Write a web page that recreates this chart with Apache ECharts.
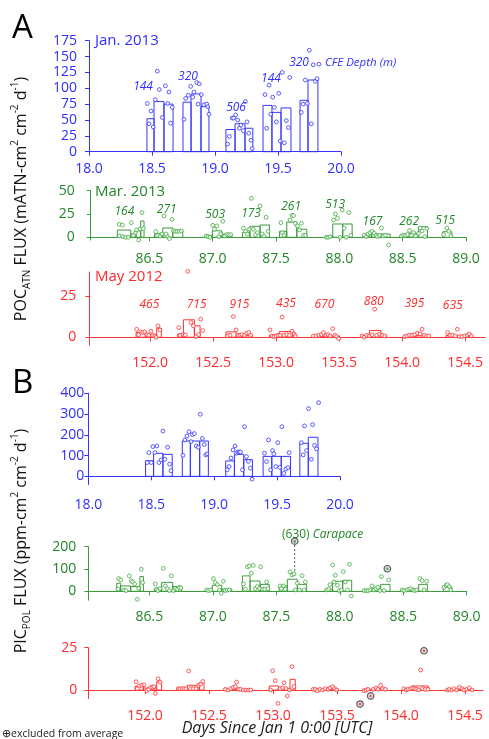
<!DOCTYPE html>
<html><head><meta charset="utf-8">
<script src="https://cdn.jsdelivr.net/npm/echarts@6/dist/echarts.min.js"></script>
<style>html,body{margin:0;padding:0;background:#fff}#c{width:489px;height:739px}</style>
</head><body><div id="c"></div>
<script>
// ---------- DATA ----------
// bars: [startDay, endDay, value]
const barsA1 = [[18.46,18.516,52],[18.516,18.595,79],[18.595,18.667,75],[18.746,18.81,78],[18.81,18.889,91],[18.889,18.952,71],[19.087,19.159,35],[19.159,19.238,44],[19.238,19.30,37],[19.381,19.452,73],[19.452,19.524,62],[19.524,19.603,69],[19.675,19.738,81],[19.738,19.817,113]];
const ptsA1 = [[18.463,76],[18.492,64],[18.476,44],[18.51,39],[18.526,82],[18.542,127],[18.558,98],[18.582,54],[18.606,104],[18.625,76],[18.635,94],[18.648,45],[18.661,70],
[18.754,51],[18.767,84],[18.788,89],[18.807,103],[18.823,86],[18.833,94],[18.855,109],[18.875,107],[18.865,75],[18.891,90],[18.913,74],[18.934,75],[18.942,71],[18.952,59],
[19.10,12],[19.114,24],[19.137,53],[19.148,53],[19.164,58],[19.18,50],[19.193,37],[19.206,42],[19.225,33],[19.241,79],[19.254,47],[19.268,29],[19.286,18],[19.296,5],
[19.397,90],[19.41,37],[19.429,105],[19.442,59],[19.458,86],[19.471,70],[19.487,47],[19.506,92],[19.518,17],[19.534,125],[19.55,14],[19.566,49],[19.582,38],[19.593,117],
[19.685,62],[19.70,75],[19.717,113],[19.733,76],[19.748,160],[19.764,44],[19.78,137],[19.796,111],[19.81,115],[19.825,138]];
const depthA1 = [[18.429,102],[18.786,118],[19.167,69],[19.444,115],[19.667,140]];
const depthA1Lbl = ['144','320','506','144','320'];

const barsA2 = [[86.247,86.353,7.8],[86.353,86.395,3.5],[86.395,86.432,7],[86.432,86.458,17.5],
[86.54,86.606,3.6],[86.606,86.685,10],[86.685,86.764,7],
[86.94,86.998,2.1],[86.998,87.072,7],[87.072,87.151,3.5],
[87.235,87.295,5.3],[87.295,87.374,11.8],[87.374,87.448,13.2],
[87.527,87.585,6.4],[87.585,87.664,16.4],[87.664,87.743,8.6],
[87.888,87.948,1],[87.948,88.027,14.3],[88.027,88.101,14.3],
[88.185,88.256,1.5],[88.256,88.322,3.5],[88.322,88.401,3.5],
[88.48,88.546,2.5],[88.546,88.625,4.3],[88.625,88.696,11.4],
[88.817,88.888,6]];
const ptsA2 = [[86.263,13.9],[86.287,13.2],[86.263,1.4],[86.29,0.7],[86.313,0],[86.334,0],[86.358,15.7],[86.374,2.1],[86.39,5.0],[86.40,7.9],[86.416,-2.9],[86.427,8.9],[86.442,26.5],[86.453,9.3],
[86.55,6.1],[86.566,2.1],[86.585,1.4],[86.60,3.6],[86.616,22.9],[86.632,3.6],[86.642,0.7],[86.658,-1.4],[86.679,19.3],[86.69,7.2],[86.706,6.4],[86.721,6.4],[86.737,6.4],[86.753,6.8],
[86.948,1.4],[86.964,0.7],[86.979,0],[87.0,12.9],[87.014,8.6],[87.032,12.2],[87.048,0.7],[87.064,3.6],[87.08,17.2],[87.095,1.4],[87.111,2.9],[87.127,2.9],[87.143,2.9],
[87.243,9.7],[87.259,6.4],[87.274,3.6],[87.29,8.6],[87.306,41.8],[87.322,8.6],[87.338,2.9],[87.353,5.0],[87.374,33.6],[87.39,3.6],[87.406,1.4],[87.422,21.5],[87.438,6.4],
[87.538,15.7],[87.548,5],[87.564,2.1],[87.611,18.6],[87.627,23.6],[87.638,23.2],[87.653,15],[87.669,12.2],[87.685,7.9],[87.701,15],[87.717,2.1],[87.733,2.1],
[87.896,0],[87.912,0],[87.927,0.7],[87.954,18.6],[87.969,25],[87.985,20.4],[88.006,0],[88.022,29.3],[88.038,9.7],[88.054,0],[88.075,26.5],[88.091,2.1],
[88.196,2.1],[88.212,0.7],[88.227,3.6],[88.243,5],[88.259,6.4],[88.275,4.3],[88.291,2.1],[88.301,0.7],[88.317,2.1],[88.333,10],[88.349,1.4],[88.364,2.1],[88.388,-8.2],
[88.491,1.4],[88.507,2.1],[88.522,2.1],[88.538,2.9],[88.554,7.2],[88.57,2.1],[88.586,5],[88.601,1.4],[88.625,4.3],[88.638,10],[88.654,6.8],[88.675,0.7],[88.691,9.3],
[88.823,2.9],[88.849,10],[88.865,6.4],[88.881,1.4]];
const depthA2 = [[86.303,27.5],[86.637,30],[87.019,24.7],[87.303,25.8],[87.619,32.9],[87.967,34.7],[88.262,16.8],[88.551,16.8],[88.836,17.9]];
const depthA2Lbl = ['164','271','503','173','261','513','167','262','515'];

const barsA3 = [[151.889,151.963,2.9],[151.963,152.053,1.5],[152.053,152.09,5.5],
[152.22,152.265,2],[152.265,152.352,10.7],[152.352,152.397,7],
[152.603,152.683,3.3],[152.683,152.81,1],
[152.947,153.026,1.2],[153.026,153.132,3.5],[153.132,153.159,2],
[153.291,153.397,0.6],[153.397,153.503,0.8],
[153.675,153.741,1.2],[153.741,153.833,4.1],[153.833,153.878,1.2],
[154.019,154.111,0.8],[154.111,154.217,1],
[154.349,154.455,1],[154.455,154.561,0.8]];
const ptsA3 = [[151.894,4.9],[151.91,1.6],[151.926,3.3],[151.942,2.9],[151.958,3.3],[151.974,1.6],[151.989,1.2],[152.008,3.7],[152.021,1.2],[152.037,0.8],[152.048,0],[152.063,7],[152.079,4.5],
[152.228,5.9],[152.238,1.2],[152.265,1.6],[152.28,1.4],[152.299,40.4],[152.325,9],[152.344,7],[152.365,0.4],[152.386,1.6],[152.402,11.1],[152.418,4.1],
[152.616,0.8],[152.635,1.2],[152.661,12.7],[152.683,4.5],[152.698,1.2],[152.714,1.2],[152.73,1.6],[152.749,1.2],[152.767,2.5],[152.783,2.9],[152.799,1.2],
[152.952,4.5],[152.968,0.8],[152.984,0.4],[153.0,0.8],[153.016,1.2],[153.032,1.2],[153.048,12.3],[153.063,1.2],[153.085,1.6],[153.106,1.2],[153.127,3.7],[153.143,2],[153.153,0.8],
[153.296,0.8],[153.317,0.8],[153.339,1.2],[153.36,1.6],[153.376,2.9],[153.397,1.2],[153.413,1.6],[153.429,0.8],[153.45,5.3],[153.466,1.2],[153.481,0.4],[153.497,-0.8],
[153.683,0.8],[153.698,0],[153.72,1.2],[153.741,0.8],[153.762,1.6],[153.783,17.2],[153.799,1.2],[153.82,2],[153.841,1.2],[153.862,0.8],
[154.021,0.4],[154.037,0.8],[154.058,1.2],[154.079,1.2],[154.1,1.6],[154.122,2.5],[154.143,2],[154.159,4.9],[154.175,1.2],[154.196,0.8],[154.212,0.8],
[154.362,2.9],[154.381,1.2],[154.402,1.2],[154.423,0.8],[154.439,4.9],[154.455,0.4],[154.476,0.4],[154.497,0.8],[154.519,1.2],[154.534,2],[154.55,0.8]];
const depthA3 = [[151.995,19.9],[152.37,19.9],[152.709,19.9],[153.079,20.5],[153.384,19.9],[153.775,22],[154.098,20.5],[154.402,19.3]];
const depthA3Lbl = ['465','715','915','435','670','880','395','635'];

const barsB1 = [[18.455,18.519,75],[18.519,18.593,111],[18.593,18.667,106],
[18.747,18.811,170],[18.811,18.885,170],[18.885,18.954,170],
[19.092,19.161,74],[19.161,19.235,106],[19.235,19.304,80],
[19.389,19.458,96],[19.458,19.533,96],[19.533,19.607,96],
[19.681,19.748,159],[19.748,19.825,188]];
const ptsB1 = [[18.468,66],[18.481,114],[18.5,66],[18.513,143],[18.529,114],[18.545,146],[18.561,66],[18.577,79],[18.593,218],[18.609,82],[18.63,140],[18.646,59],[18.657,27],
[18.752,101],[18.768,175],[18.784,194],[18.8,215],[18.816,167],[18.827,201],[18.842,206],[18.858,146],[18.874,140],[18.89,299],[18.906,183],[18.922,153],[18.933,103],[18.944,108],
[19.103,31],[19.119,47],[19.134,88],[19.15,127],[19.166,146],[19.177,111],[19.188,117],[19.198,117],[19.209,117],[19.225,31],[19.241,239],[19.257,95],[19.272,72],[19.288,39],[19.302,-14],
[19.4,111],[19.416,71],[19.432,175],[19.448,31],[19.464,124],[19.474,108],[19.49,47],[19.506,162],[19.522,43],[19.538,239],[19.554,14],[19.57,35],[19.586,42],[19.596,114],
[19.692,162],[19.708,103],[19.718,243],[19.734,124],[19.75,326],[19.772,82],[19.782,249],[19.798,149],[19.814,132],[19.83,355]];

const barsB2 = [[86.243,86.274,36],[86.274,86.353,24],[86.353,86.426,21],[86.426,86.453,66],
[86.539,86.597,13],[86.597,86.684,40],[86.684,86.755,21],
[86.939,86.996,6],[86.996,87.07,27],[87.07,87.149,10],
[87.233,87.293,69],[87.293,87.372,46],[87.372,87.445,31],
[87.522,87.587,24],[87.587,87.666,54],[87.666,87.739,31],
[87.884,87.944,9],[87.944,88.023,45],[88.023,88.094,49],
[88.181,88.252,3],[88.252,88.322,10],[88.322,88.396,31],
[88.48,88.548,6],[88.548,88.622,6],[88.622,88.69,31],
[88.816,88.882,18]];
const ptsB2 = [[86.258,57],[86.274,51],[86.253,10],[86.3,6],[86.316,3],[86.342,69],[86.358,48],[86.369,42],[86.384,33],[86.405,-36],[86.416,13],[86.437,99],[86.447,39],
[86.547,33],[86.558,9],[86.568,3],[86.584,12],[86.61,103],[86.626,24],[86.642,12],[86.658,3],[86.673,69],[86.689,3],[86.705,12],[86.721,9],[86.736,18],[86.747,15],
[86.952,6],[86.967,3],[86.983,6],[87.004,57],[87.02,39],[87.036,30],[87.051,6],[87.067,-9],[87.083,45],[87.099,3],[87.114,6],[87.13,6],
[87.241,33],[87.256,9],[87.272,110],[87.288,113],[87.304,81],[87.319,116],[87.335,12],[87.351,21],[87.367,12],[87.377,110],[87.393,9],[87.409,9],[87.424,42],[87.435,12],
[87.529,24],[87.54,12],[87.556,24],[87.571,9],[87.608,88],[87.624,73],[87.64,78],[87.65,6],[87.666,36],[87.682,6],[87.703,70],[87.719,6],[87.729,42],
[87.897,6],[87.913,9],[87.923,30],[87.944,118],[87.955,42],[87.965,72],[87.981,27],[87.997,3],[88.013,6],[88.028,88],[88.044,42],[88.06,6],[88.076,121],[88.091,-21],
[88.191,3],[88.207,3],[88.223,3],[88.238,6],[88.254,24],[88.27,6],[88.286,12],[88.301,18],[88.317,3],[88.328,66],[88.349,3],[88.386,51],
[88.491,6],[88.506,3],[88.527,6],[88.543,9],[88.559,12],[88.575,6],[88.59,3],[88.606,6],[88.632,57],[88.648,48],[88.664,6],[88.685,45],
[88.821,18],[88.837,27],[88.848,30],[88.863,21],[88.874,6]];
const exclB2 = [[87.645,225],[88.375,101]];
const carapaceLine = [[87.645,225],[87.645,66]];

const barsB3 = [[151.922,151.987,2.2],[151.987,152.091,1.2],[152.091,152.13,4.9],
[152.247,152.331,1.2],[152.331,152.424,2.8],[152.424,152.461,4.3],
[152.617,152.716,0.6],[152.716,152.826,0.4],
[152.971,153.042,2.4],[153.042,153.133,0.8],[153.133,153.174,6.3],
[153.302,153.406,0.5],[153.406,153.51,0.6],
[153.701,153.797,0.4],[153.797,153.888,0.7],
[154.018,154.083,0.6],[154.083,154.214,2.4],
[154.357,154.461,0.4],[154.461,154.565,0.5]];
const ptsB3 = [[151.93,4.9],[151.94,0.8],[151.956,2.4],[151.974,2.8],[151.992,3.1],[152.013,-0.4],[152.029,0.4],[152.044,1.6],[152.06,1.6],[152.07,2],[152.081,-2],[152.102,6.7],[152.117,4.7],
[152.26,0.8],[152.273,0.8],[152.289,0.8],[152.305,0.8],[152.32,0.8],[152.341,11.2],[152.357,0.8],[152.378,0.8],[152.398,0.8],[152.419,2.8],[152.435,3.5],[152.451,5.1],
[152.628,0.4],[152.648,0],[152.669,0.8],[152.69,1.6],[152.706,2],[152.716,4.7],[152.732,0.4],[152.747,0.4],[152.768,0],[152.789,0],[152.81,0],[152.826,0],
[152.982,0],[152.997,11.4],[153.018,5.5],[153.039,-7.9],[153.055,0.8],[153.076,1.2],[153.086,4.3],[153.102,0.8],[153.112,-3.5],[153.128,0],[153.148,13.8],[153.164,2],
[153.315,0.4],[153.331,0.4],[153.346,-0.4],[153.367,0.4],[153.388,0],[153.409,0.8],[153.43,0.4],[153.445,1.2],[153.466,2],[153.482,0.8],[153.497,0],
[153.711,-0.4],[153.727,0],[153.742,0.4],[153.784,0.4],[153.805,1.2],[153.82,0.4],[153.841,2.8],[153.857,0.8],[153.878,0.4],
[154.023,0.8],[154.039,0],[154.055,0.4],[154.076,0.8],[154.091,1.2],[154.107,0.8],[154.122,0.4],[154.138,0],[154.154,11.8],[154.169,0.8],[154.19,0.4],[154.211,0.4],
[154.362,0],[154.378,0.4],[154.398,0],[154.414,0.8],[154.435,0],[154.456,1.6],[154.477,0.8],[154.492,0],[154.513,0.4],[154.534,1.2],[154.555,0]];
const exclB3 = [[153.68,-8.3],[153.763,-3.5],[154.18,23.2]];

// tick labels
const xTicksJan = [18.0,18.5,19.0,19.5,20.0];
const xTicksMar = [86.5,87.0,87.5,88.0,88.5,89.0];
const xTicksMay = [152.0,152.5,153.0,153.5,154.0,154.5];
const yTicksA1 = [0,25,50,75,100,125,150,175];
const yTicksA2 = [0,25,50];
const yTicksA3 = [0,25];
const yTicksB1 = [0,100,200,300,400];
const yTicksB2 = [0,100,200];
const yTicksB3 = [0,25];

// ---------- STYLE ----------
const FONT = "'Open Sans','Noto Sans',sans-serif";
const BLUE = '#3535ff', BLUE_T = '#2f2fff';
const GREEN = '#3c9c3c', GREEN_T = '#23862a', GREEN_P = '#44aa44';
const RED = '#ff3333', RED_T = '#ff2a2a';

const grids=[], xAxes=[], yAxes=[], series=[];

function barRender(color){
  return function(params, api){
    const a = api.coord([api.value(0), 0]);
    const b = api.coord([api.value(1), api.value(2)]);
    return {type:'rect', shape:{x:a[0], y:Math.min(a[1],b[1]), width:b[0]-a[0], height:Math.abs(a[1]-b[1])},
      style:{fill:'none', stroke:color, lineWidth:1}};
  };
}
function textRender(labels, color, size){
  return function(params, api){
    const p = api.coord([api.value(0), api.value(1)]);
    return {type:'text', x:p[0], y:p[1], style:{text:labels[params.dataIndex], fill:color, fontSize:size,
      fontStyle:'italic', fontFamily:FONT, align:'center', verticalAlign:'middle'}};
  };
}

function panel(c){
  const i = grids.length;
  grids.push({left:c.left, top:c.top, width:c.width, height:c.height});
  xAxes.push({type:'value', gridIndex:i, min:c.xmin, max:c.xmax,
    axisLine:{show:true, onZero:true, lineStyle:{color:c.line, width:1}},
    axisTick:{show:true, length:4, customValues:c.xTicks, lineStyle:{color:c.line}},
    axisLabel:{customValues:c.xTicks, formatter:v=>Number(v).toFixed(1), color:c.text, fontSize:14, fontFamily:FONT, margin:c.xm},
    splitLine:{show:false}});
  yAxes.push({type:'value', gridIndex:i, min:c.ymin, max:c.ymax,
    axisLine:{show:true, onZero:false, lineStyle:{color:c.line, width:1}},
    axisTick:{show:true, length:4, customValues:c.yTicks, lineStyle:{color:c.line}},
    axisLabel:{customValues:c.yTicks, color:c.text, fontSize:14, fontFamily:FONT, margin:c.ym},
    splitLine:{show:false}});
  series.push({type:'custom', xAxisIndex:i, yAxisIndex:i, data:c.bars, renderItem:barRender(c.line),
    encode:{x:[0,1], y:2}, z:2, silent:true, clip:false});
  series.push({type:'scatter', xAxisIndex:i, yAxisIndex:i, data:c.pts, symbolSize:3.8,
    itemStyle:{color:'#ffffff', borderColor:c.pt, borderWidth:1}, z:3, silent:true, clip:false});
  if (c.depth) series.push({type:'custom', xAxisIndex:i, yAxisIndex:i, data:c.depth,
    renderItem:textRender(c.depthLbl, c.text, 12), z:4, silent:true, clip:false});
  return i;
}

panel({left:89, top:40.7, width:252, height:111, xmin:18, xmax:20, ymin:0, ymax:175,
  xTicks:xTicksJan, yTicks:yTicksA1, line:BLUE, text:BLUE_T, pt:BLUE, xm:10, ym:12,
  bars:barsA1, pts:ptsA1, depth:depthA1, depthLbl:depthA1Lbl});
panel({left:90.7, top:190.7, width:375.3, height:49.4, xmin:86.037, xmax:89, ymin:-3, ymax:50,
  xTicks:xTicksMar, yTicks:yTicksA2, line:GREEN, text:GREEN_T, pt:GREEN_P, xm:12, ym:16,
  bars:barsA2, pts:ptsA2, depth:depthA2, depthLbl:depthA2Lbl});
panel({left:89.3, top:272, width:395.9, height:73.4, xmin:151.518, xmax:154.66, ymin:-5, ymax:40,
  xTicks:xTicksMay, yTicks:yTicksA3, line:RED, text:RED_T, pt:RED, xm:11, ym:13,
  bars:barsA3, pts:ptsA3, depth:depthA3, depthLbl:depthA3Lbl});
panel({left:88.3, top:393.3, width:251.7, height:91.3, xmin:18, xmax:20, ymin:-40, ymax:400,
  xTicks:xTicksJan, yTicks:yTicksB1, line:BLUE, text:BLUE_T, pt:BLUE, xm:13, ym:4,
  bars:barsB1, pts:ptsB1});
const iB2 = panel({left:88.3, top:546.7, width:378.4, height:53.5, xmin:86.019, xmax:89, ymin:-40, ymax:200,
  xTicks:xTicksMar, yTicks:yTicksB2, line:GREEN, text:GREEN_T, pt:GREEN_P, xm:10, ym:12,
  bars:barsB2, pts:ptsB2});
const iB3 = panel({left:88.3, top:647.7, width:394.6, height:50.8, xmin:151.557, xmax:154.64, ymin:-5, ymax:25,
  xTicks:xTicksMay, yTicks:yTicksB3, line:RED, text:RED_T, pt:RED, xm:11, ym:11,
  bars:barsB3, pts:ptsB3});

series.push({type:'line', xAxisIndex:iB2, yAxisIndex:iB2, data:carapaceLine, symbol:'none', clip:false,
  lineStyle:{color:'#555', width:1, type:[2,2]}, z:3, silent:true});
function exclSeries(idx, data, col){
  series.push({type:'scatter', xAxisIndex:idx, yAxisIndex:idx, data:data, symbolSize:6.5, clip:false,
    itemStyle:{color:'rgba(170,170,170,0.55)', borderColor:'#3a3a3a', borderWidth:1.2}, z:5, silent:true});
  series.push({type:'scatter', xAxisIndex:idx, yAxisIndex:idx, data:data, symbolSize:2.6, clip:false,
    itemStyle:{color:col}, z:6, silent:true});
}
exclSeries(iB2, exclB2, GREEN_P);
exclSeries(iB3, exclB3, RED);

function richTitle(txt, x, y){
  return {type:'text', x:x, y:y, rotation:Math.PI/2, style:{text:txt, align:'center', verticalAlign:'middle', fill:'#111',
    rich:{n:{fontSize:16, lineHeight:22, fontFamily:FONT, fill:'#111'},
          sub:{fontSize:10, lineHeight:12, verticalAlign:'bottom', fontFamily:FONT, fill:'#111'},
          sup:{fontSize:10, lineHeight:12, verticalAlign:'top', fontFamily:FONT, fill:'#111'}}}};
}
function label(txt, x, y, color, size, extra){
  return {type:'text', x:x, y:y, style:Object.assign({text:txt, fill:color, fontSize:size, fontFamily:FONT, align:'left', verticalAlign:'middle'}, extra||{})};
}

const graphic = [
  label('A', 12, 29, '#000', 33),
  label('B', 12, 384, '#000', 33),
  label('Jan. 2013', 95, 41, BLUE_T, 15),
  label('Mar. 2013', 95, 192, GREEN_T, 15),
  label('May 2012', 95, 277, RED_T, 15),
  label('CFE Depth (m)', 325, 63, BLUE_T, 11.5, {fontStyle:'italic'}),
  {type:'text', x:282, y:535, style:{text:'{n|(630) }{i|Carapace}', align:'left', verticalAlign:'middle',
    rich:{n:{fontSize:12, fontFamily:FONT, fill:GREEN_T}, i:{fontSize:12, fontFamily:FONT, fontStyle:'italic', fill:GREEN_T}}}},
  richTitle('{n|POC}{sub|ATN}{n| FLUX (mATN-cm}{sup|2}{n| cm}{sup|-2}{n| d}{sup|-1}{n|)}', 21, 199),
  richTitle('{n|PIC}{sub|POL}{n| FLUX (ppm-cm}{sup|2}{n| cm}{sup|-2}{n| d}{sup|-1}{n|)}', 21, 541),
  {type:'text', x:277, y:728, style:{text:'Days Since Jan 1 0:00 [UTC]', fill:'#222', fontSize:16, fontStyle:'italic', fontFamily:FONT, align:'center', verticalAlign:'middle'}},
  label('\u2295excluded from average', 2, 734, '#222', 10.5)
];

const chart = echarts.init(document.getElementById('c'), null, {renderer:'canvas'});
chart.setOption({animation:false, backgroundColor:'#fff', grid:grids, xAxis:xAxes, yAxis:yAxes, series:series, graphic:graphic});
</script></body></html>
